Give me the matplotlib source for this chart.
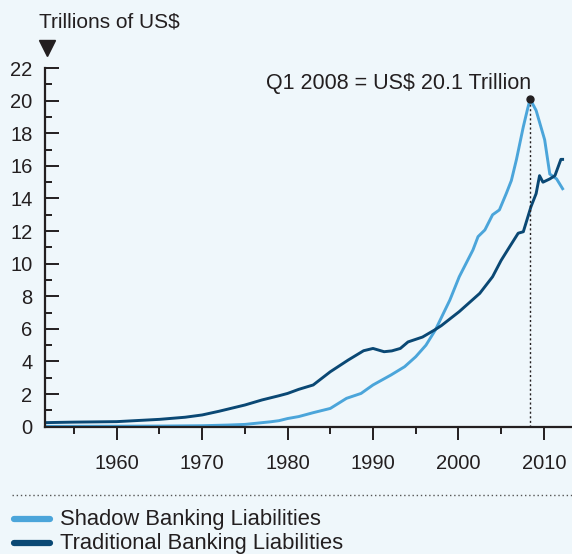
import matplotlib
matplotlib.use("Agg")
import matplotlib.pyplot as plt
from matplotlib.lines import Line2D
from matplotlib.ticker import MultipleLocator

plt.rcParams['font.family'] = ['Liberation Sans', 'DejaVu Sans']

# values (trillions of US$)
trad_years = [1951.75, 1955, 1960, 1965, 1968, 1970, 1972, 1975, 1977, 1979, 1980,
              1981.3, 1983, 1985, 1987.1, 1988.9, 1990, 1991.3, 1992.2, 1993.2,
              1994.1, 1995.8, 1997.2, 1998, 2000.1, 2002.5, 2004, 2005, 2006,
              2007, 2007.6, 2008.5, 2009.1, 2009.5, 2009.9, 2010.7, 2011.3, 2012.0, 2012.2]
trad_vals = [0.25, 0.28, 0.31, 0.45, 0.58, 0.72, 0.95, 1.33, 1.64, 1.9, 2.04,
             2.29, 2.56, 3.37, 4.09, 4.66, 4.8, 4.6, 4.65, 4.8,
             5.2, 5.5, 5.93, 6.2, 7.06, 8.18, 9.2, 10.2, 11.04,
             11.87, 11.96, 13.5, 14.3, 15.4, 15.0, 15.2, 15.4, 16.4, 16.4]

shadow_years = [1951.75, 1960, 1965, 1970, 1973, 1975, 1978, 1979, 1980, 1981.3,
                1983, 1985, 1986.9, 1988.6, 1990, 1992.1, 1993.7, 1995, 1996.2,
                1997.3, 1999, 2000.1, 2001.7, 2002.3, 2003.1, 2004, 2004.8, 2005.6,
                2006.2, 2006.8, 2007.6, 2008.1, 2008.4, 2009.1, 2010.1, 2010.7,
                2011.5, 2012.2]
shadow_vals = [0.02, 0.03, 0.04, 0.06, 0.1, 0.14, 0.3, 0.37, 0.5, 0.62,
               0.86, 1.12, 1.74, 2.04, 2.56, 3.17, 3.68, 4.29, 5.0,
               5.93, 7.77, 9.2, 10.84, 11.66, 12.07, 13.0, 13.3, 14.3,
               15.1, 16.4, 18.4, 19.5, 20.1, 19.4, 17.6, 15.5,
               15.2, 14.6]

peak_year = 2008.4
peak_val = 20.1

bg = '#EFF7FB'
light = '#4BA5DA'
dark = '#0A4874'
ink = '#231F20'

fig = plt.figure(figsize=(5.72, 5.54), dpi=100, facecolor=bg)
ax = fig.add_axes([0.0787, 0.2298, 0.9213, 0.6473])
ax.set_facecolor(bg)

ax.plot(shadow_years, shadow_vals, color=light, lw=2.1, solid_joinstyle='round')
ax.plot(trad_years, trad_vals, color=dark, lw=2.1, solid_joinstyle='round')

# peak marker
ax.plot([peak_year, peak_year], [0, peak_val], color=ink, lw=1, ls=(0, (1.5, 1.8)))
ax.plot(peak_year, peak_val, 'o', color=ink, ms=5)
ax.annotate('Q1 2008 = US$ 20.1 Trillion', xy=(peak_year, peak_val),
            xytext=(1, 11), textcoords='offset points', ha='right', va='center',
            fontsize=15.5, color=ink)

ax.set_xlim(1951.6, 2013.3)
ax.set_ylim(0, 22)
ax.xaxis.set_major_locator(MultipleLocator(10))
ax.xaxis.set_minor_locator(MultipleLocator(5))
ax.yaxis.set_major_locator(MultipleLocator(2))
ax.yaxis.set_minor_locator(MultipleLocator(1))

for s in ['top', 'right']:
    ax.spines[s].set_visible(False)
for s in ['left', 'bottom']:
    ax.spines[s].set_color(ink)
    ax.spines[s].set_linewidth(1.6)

ax.tick_params(axis='x', which='major', direction='out', length=9.5, width=1.4,
               color=ink, pad=10, labelsize=14.5, labelcolor=ink)
ax.tick_params(axis='x', which='minor', direction='out', length=4.8, width=1.4, color=ink)
ax.tick_params(axis='y', which='major', direction='in', length=10, width=1.4,
               color=ink, pad=9, labelsize=14.5, labelcolor=ink)
ax.tick_params(axis='y', which='minor', direction='in', length=5, width=1.4, color=ink)

# unit label and arrow
fig.text(39 / 572, 1 - 22 / 554, 'Trillions of US$', fontsize=15, color=ink,
         ha='left', va='center')
fig.add_artist(Line2D([47 / 572], [1 - 48 / 554], marker='v', ms=11, color=ink,
                      transform=fig.transFigure))

# legend area
fig.add_artist(Line2D([12 / 572, 1], [1 - 495 / 554] * 2, color='#555555', lw=1,
                      ls=(0, (1, 2)), transform=fig.transFigure))
for ypix, col, lab in [(519, light, 'Shadow Banking Liabilities'),
                       (543, dark, 'Traditional Banking Liabilities')]:
    y = 1 - ypix / 554
    fig.add_artist(Line2D([14 / 572, 50 / 572], [y, y], color=col, lw=4.5,
                          solid_capstyle='round', transform=fig.transFigure))
    fig.text(60 / 572, y, lab, fontsize=15.8, color=ink, ha='left', va='center')

fig.savefig('out.png', dpi=100, facecolor=bg)
